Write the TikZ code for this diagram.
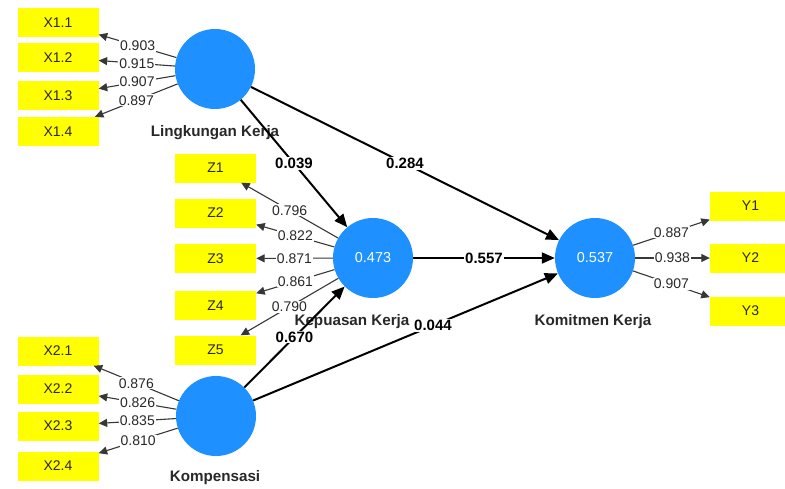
\documentclass[tikz,border=0pt]{standalone}
\usepackage{fontspec}
\setmainfont{Liberation Sans}
\usetikzlibrary{arrows.meta}
\definecolor{lvblue}{RGB}{30,144,255}
\definecolor{boxyellow}{RGB}{255,255,0}
\definecolor{txt}{RGB}{40,40,40}
\definecolor{loadline}{RGB}{55,55,55}
\begin{document}
\begin{tikzpicture}[x=1pt,y=-1pt,
  ind/.style={fill=boxyellow, minimum width=81pt, minimum height=29pt, inner sep=0pt, text=txt, font=\fontsize{14}{16}\selectfont},
  lv/.style={circle, fill=lvblue, minimum size=80pt, inner sep=0pt, text=white, font=\fontsize{14.4}{16}\selectfont},
  lvname/.style={text=txt, font=\fontsize{15.2}{17}\selectfont\bfseries},
  load/.style={draw=loadline, line width=1.1pt, -{Triangle[length=8.5pt,width=8pt]}},
  lbl/.style={fill=white, inner sep=1pt, text=txt, font=\fontsize{14}{16}\selectfont, pos=0.5},
  path/.style={draw=black, line width=2pt, -{Triangle[length=13pt,width=11pt]}},
  plbl/.style={fill=white, inner sep=1pt, text=black, font=\fontsize{15}{17}\selectfont\bfseries, pos=0.5}
]
\useasboundingbox (0,0) rectangle (785,488);
\clip (0,0) rectangle (785,488);

% indicator boxes
\node[ind] (X11) at (58,22.5) {X1.1};
\node[ind] (X12) at (58,57.5) {X1.2};
\node[ind] (X13) at (58,95.5) {X1.3};
\node[ind] (X14) at (58,131.5) {X1.4};
\node[ind] (Z1) at (215.5,168) {Z1};
\node[ind] (Z2) at (215.5,213) {Z2};
\node[ind] (Z3) at (215.5,258.5) {Z3};
\node[ind] (Z4) at (215.5,305.5) {Z4};
\node[ind] (Z5) at (215.5,350) {Z5};
\node[ind] (X21) at (58,351) {X2.1};
\node[ind] (X22) at (58,389) {X2.2};
\node[ind] (X23) at (58,426) {X2.3};
\node[ind] (X24) at (58,466) {X2.4};
\node[ind] (Y1) at (750.5,206) {Y1};
\node[ind] (Y2) at (750.5,258) {Y2};
\node[ind] (Y3) at (750.5,311) {Y3};

% latent variables
\node[lv] (LK) at (215,69) {};
\node[lv] (KP) at (373,258) {0.473};
\node[lv] (KM) at (216,416) {};
\node[lv] (KK) at (595,258) {0.537};

\node[lvname] (nLK) at (215,133) {Lingkungan Kerja};
\node[lvname] (nKP) at (352,322) {Kepuasan Kerja};
\node[lvname] (nKK) at (593,322) {Komitmen Kerja};
\node[lvname] (nKM) at (215,478) {Kompensasi};

% loadings
\draw[load] (LK) -- node[lbl] (l1) {0.903} (X11);
\draw[load] (LK) -- node[lbl] (l2) {0.915} (X12);
\draw[load] (LK) -- node[lbl] (l3) {0.907} (X13);
\draw[load] (LK) -- node[lbl] (l4) {0.897} (X14);
\draw[load] (KP) -- node[lbl] (l5) {0.796} (Z1);
\draw[load] (KP) -- node[lbl] (l6) {0.822} (Z2);
\draw[load] (KP) -- node[lbl] (l7) {0.871} (Z3);
\draw[load] (KP) -- node[lbl] (l8) {0.861} (Z4);
\draw[load] (KP) -- node[lbl] (l9) {0.790} (Z5);
\draw[load] (KM) -- node[lbl] (l10) {0.876} (X21);
\draw[load] (KM) -- node[lbl] (l11) {0.826} (X22);
\draw[load] (KM) -- node[lbl] (l12) {0.835} (X23);
\draw[load] (KM) -- node[lbl] (l13) {0.810} (X24);
\draw[load] (KK) -- node[lbl] (l14) {0.887} (Y1);
\draw[load] (KK) -- node[lbl] (l15) {0.938} (Y2);
\draw[load] (KK) -- node[lbl] (l16) {0.907} (Y3);

% structural paths
\draw[path] (LK) -- node[plbl] (p1) {0.039} (KP);
\draw[path] (LK) -- node[plbl] (p2) {0.284} (KK);
\draw[path] (KP) -- node[plbl] (p3) {0.557} (KK);
\draw[path] (KM) -- node[plbl] (p4) {0.670} (KP);
\draw[path] (KM) -- node[plbl, pos=0.59] (p5) {0.044} (KK);
\end{tikzpicture}
\end{document}
